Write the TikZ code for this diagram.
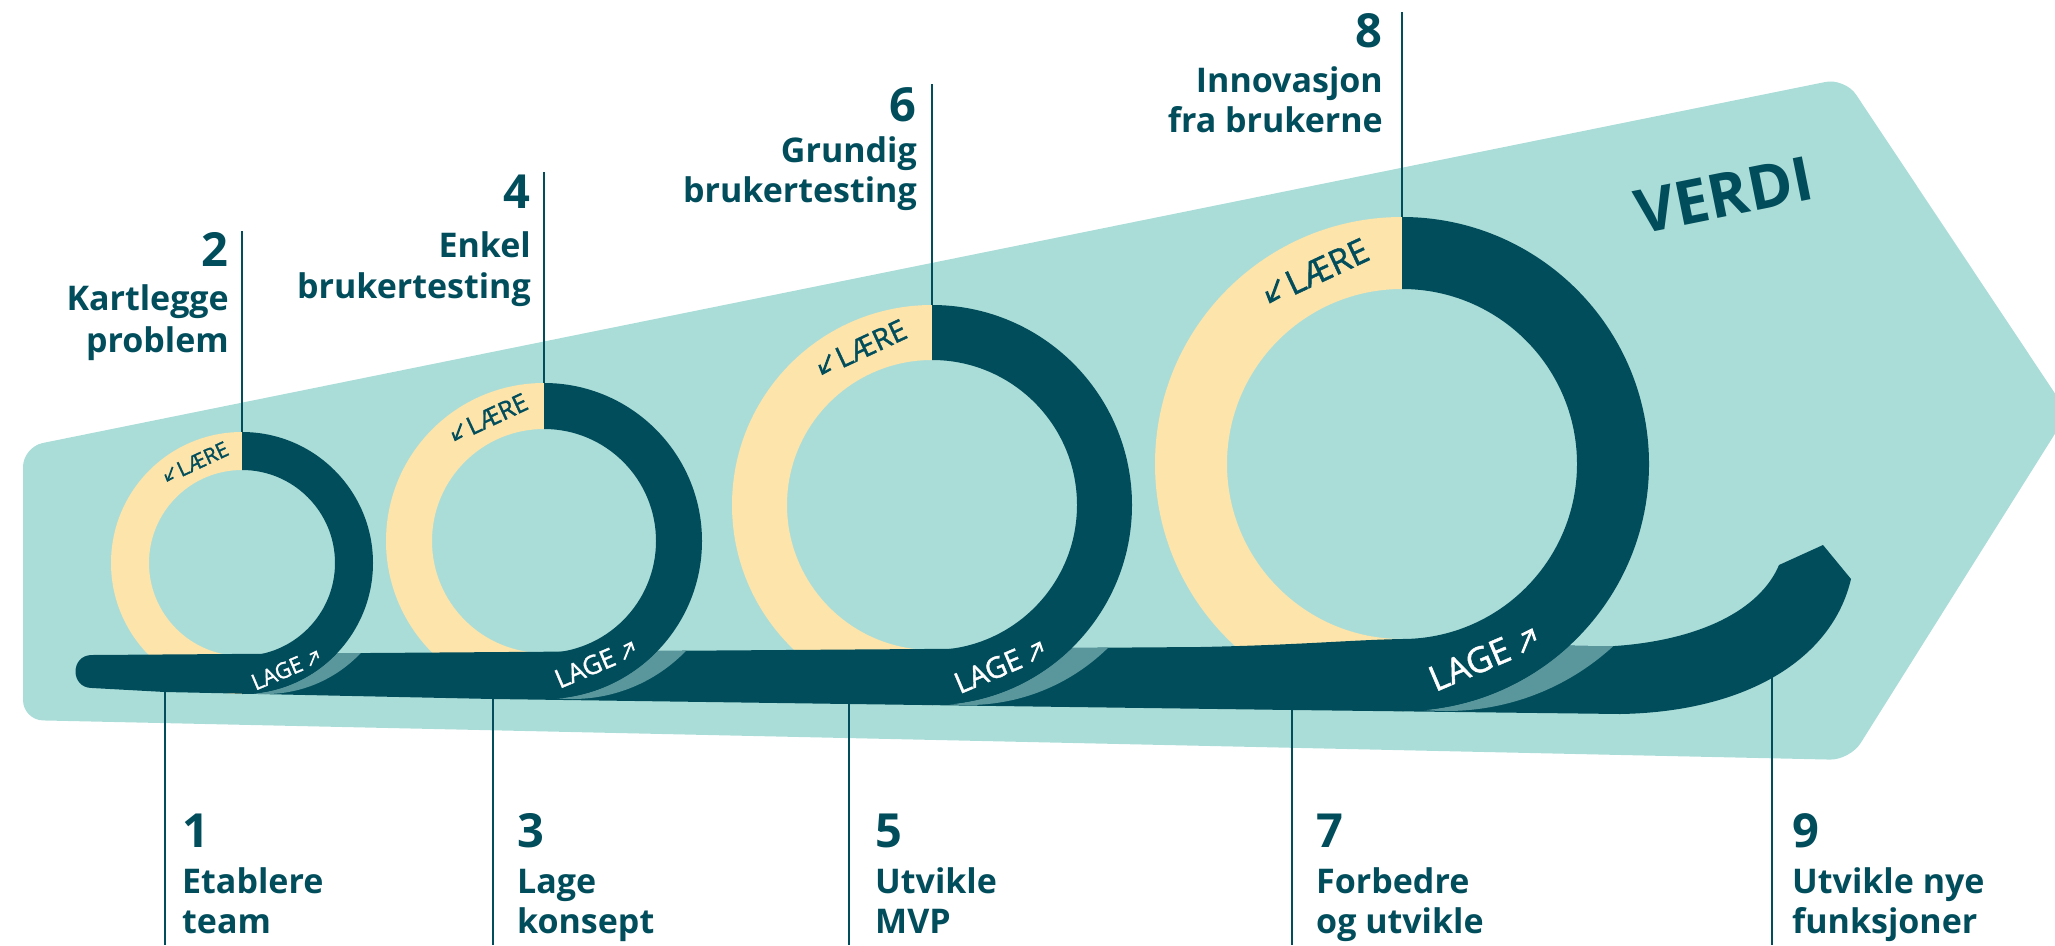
\documentclass[tikz,border=0pt]{standalone}
\usepackage{fontspec}
\usetikzlibrary{arrows.meta}
\setmainfont{Open Sans}
\newfontfamily\semibfont{Open Sans}[FakeBold=1.3]
\definecolor{bgteal}{RGB}{171,221,216}
\definecolor{dteal}{RGB}{1,77,92}
\definecolor{yel}{RGB}{252,228,171}
\definecolor{shadeteal}{RGB}{90,151,156}
\newcommand\trackpath{(92,655) -- (1200,647) .. controls (1300,645) and (1350,640) .. (1402,639) .. controls (1480,639) and (1540,647) .. (1615,646) .. controls (1700,640) and (1760,610) .. (1779,565) -- (1823,545) -- (1851,579) .. controls (1832,660) and (1745,712) .. (1620,714) -- (1292,710) -- (849,704) -- (493,699) -- (165,692) -- (92,688) .. controls (70,688) and (70,655) .. (92,655) -- cycle}
\newcommand\yelhalf[4]{\fill[yel] (#1,#2-#3) arc[start angle=270,end angle=90,radius=#3] -- (#1,#2+#4) arc[start angle=90,end angle=270,radius=#4] -- cycle;}
\newcommand\darkhalf[4]{\fill[dteal] (#1,#2-#3) arc[start angle=270,end angle=450,radius=#3] -- (#1,#2+#4) arc[start angle=90,end angle=-90,radius=#4] -- cycle;}
\newcommand\shadecres[3]{\begin{scope}\clip \trackpath; \clip (#1+0.18*#3,#2) circle[radius=#3]; \fill[shadeteal,even odd rule] (#1-2*#3,#2-2*#3) rectangle (#1+3*#3,#2+2*#3) (#1,#2) circle[radius=#3]; \end{scope}}
% arrow drawn before a LAERE node (pointing down-left), sizes in em of the text
\newcommand\swarr[2]{%
  \pgfmathsetmacro\alw{0.085*#2}\pgfmathsetmacro\ahl{0.24*#2}\pgfmathsetmacro\ahw{0.42*#2}%
  \begin{scope}[shift={(#1.base west)}, rotate=25, x=#2pt, y=-#2pt]
    \draw[dteal, line width=\alw pt, -{Straight Barb[length=\ahl pt, width=\ahw pt]}] (-0.16,-0.62) -- (-0.7,-0.08);
  \end{scope}}
% arrow drawn after a LAGE node (pointing up-right)
\newcommand\nearr[2]{%
  \pgfmathsetmacro\alw{0.075*#2}\pgfmathsetmacro\ahl{0.24*#2}\pgfmathsetmacro\ahw{0.42*#2}%
  \begin{scope}[shift={(#1.base east)}, rotate=23, x=#2pt, y=-#2pt]
    \draw[white, line width=\alw pt, -{Straight Barb[length=\ahl pt, width=\ahw pt]}] (0.3,-0.06) -- (0.84,-0.6);
  \end{scope}}
\tikzset{
  numlbl/.style={text=dteal, font=\bfseries\fontsize{47}{47}\selectfont, inner sep=0pt},
  txtlbl/.style={text=dteal, font=\bfseries\fontsize{34}{34}\selectfont, inner sep=0pt},
  leader/.style={draw=dteal, line width=2.8pt},
  laere/.style={text=dteal, inner sep=0pt, rotate=25},
  lage/.style={text=white, inner sep=0pt, rotate=23},
}
\begin{document}
\begin{tikzpicture}[x=1pt,y=-1pt]
\useasboundingbox (0,0) rectangle (2055,945);
% background arrow
\fill[bgteal, rounded corners=20pt] (23,447) -- (1845,78) -- (2068,413) -- (1850,760) -- (23,720) -- cycle;
\node[text=dteal, font=\bfseries\fontsize{61}{61}\selectfont, rotate=11.4, inner sep=0pt] (verdi) at (1724,195) {VERDI};
% yellow halves
\yelhalf{242}{563}{131}{93}
\yelhalf{544}{541}{158}{112}
\yelhalf{932}{505}{200}{145}
\yelhalf{1402}{464}{247}{175}
% track
\fill[dteal] \trackpath;
% shades
\shadecres{242}{563}{131}
\shadecres{544}{541}{158}
\shadecres{932}{505}{200}
\shadecres{1402}{464}{247}
% dark halves
\darkhalf{242}{563}{131}{93}
\darkhalf{544}{541}{158}{112}
\darkhalf{932}{505}{200}{145}
\darkhalf{1402}{464}{247}{175}
% ring texts
\node[laere, font=\semibfont\fontsize{21}{21}\selectfont] (laere1) at (202.6,459) {LÆRE};
\node[laere, font=\semibfont\fontsize{25}{25}\selectfont] (laere2) at (497,414) {LÆRE};
\node[laere, font=\semibfont\fontsize{29}{29}\selectfont] (laere3) at (871,343.5) {LÆRE};
\node[laere, font=\semibfont\fontsize{34}{34}\selectfont] (laere4) at (1327,266.5) {LÆRE};
\swarr{laere1}{21}
\swarr{laere2}{25}
\swarr{laere3}{29}
\swarr{laere4}{34}
\node[lage, font=\semibfont\fontsize{22}{22}\selectfont] (lage1) at (277,673) {LAGE};
\node[lage, font=\semibfont\fontsize{26}{26}\selectfont] (lage2) at (585,668) {LAGE};
\node[lage, font=\semibfont\fontsize{29}{29}\selectfont] (lage3) at (988,671) {LAGE};
\node[lage, font=\semibfont\fontsize{35}{35}\selectfont] (lage4) at (1469.5,664) {LAGE};
\nearr{lage1}{22}
\nearr{lage2}{26}
\nearr{lage3}{29}
\nearr{lage4}{35}
% top leader lines
\coordinate (t2) at (242,231);  \coordinate (r1) at (242,432);
\coordinate (t4) at (544,172);  \coordinate (r2) at (544,383);
\coordinate (t6) at (932,84);   \coordinate (r3) at (932,305);
\coordinate (t8) at (1402,12);  \coordinate (r4) at (1402,217);
\draw[leader] (t2) -- (r1);
\draw[leader] (t4) -- (r2);
\draw[leader] (t6) -- (r3);
\draw[leader] (t8) -- (r4);
% bottom leader lines
\coordinate (s1) at (165,689);  \coordinate (e1) at (165,945);
\coordinate (s3) at (493,696);  \coordinate (e3) at (493,945);
\coordinate (s5) at (849,701);  \coordinate (e5) at (849,945);
\coordinate (s7) at (1292,707); \coordinate (e7) at (1292,945);
\coordinate (s9) at (1772,674); \coordinate (e9) at (1772,945);
\draw[leader] (s1) -- (e1);
\draw[leader] (s3) -- (e3);
\draw[leader] (s5) -- (e5);
\draw[leader] (s7) -- (e7);
\draw[leader] (s9) -- (e9);
% top labels
\node[numlbl, anchor=base east] (n2) at (229,266) {2};
\node[txtlbl, anchor=base east] (n2a) at (229,310) {Kartlegge};
\node[txtlbl, anchor=base east] (n2b) at (229,352) {problem};
\node[numlbl, anchor=base east] (n4) at (531,208) {4};
\node[txtlbl, anchor=base east] (n4a) at (531,257) {Enkel};
\node[txtlbl, anchor=base east] (n4b) at (531,298) {brukertesting};
\node[numlbl, anchor=base east] (n6) at (917,121) {6};
\node[txtlbl, anchor=base east] (n6a) at (917,162) {Grundig};
\node[txtlbl, anchor=base east] (n6b) at (917,202) {brukertesting};
\node[numlbl, anchor=base east] (n8) at (1383,47) {8};
\node[txtlbl, anchor=base east] (n8a) at (1383,92) {Innovasjon};
\node[txtlbl, anchor=base east] (n8b) at (1383,132) {fra brukerne};
% bottom labels
\node[numlbl, anchor=base west] (n1) at (182,847) {1};
\node[txtlbl, anchor=base west] (n1a) at (182,893) {Etablere};
\node[txtlbl, anchor=base west] (n1b) at (182,933) {team};
\node[numlbl, anchor=base west] (n3) at (517,847) {3};
\node[txtlbl, anchor=base west] (n3a) at (517,893) {Lage};
\node[txtlbl, anchor=base west] (n3b) at (517,933) {konsept};
\node[numlbl, anchor=base west] (n5) at (875,847) {5};
\node[txtlbl, anchor=base west] (n5a) at (875,893) {Utvikle};
\node[txtlbl, anchor=base west] (n5b) at (875,933) {MVP};
\node[numlbl, anchor=base west] (n7) at (1316,847) {7};
\node[txtlbl, anchor=base west] (n7a) at (1316,893) {Forbedre};
\node[txtlbl, anchor=base west] (n7b) at (1316,933) {og utvikle};
\node[numlbl, anchor=base west] (n9) at (1792,847) {9};
\node[txtlbl, anchor=base west] (n9a) at (1792,893) {Utvikle nye};
\node[txtlbl, anchor=base west] (n9b) at (1792,933) {funksjoner};
\end{tikzpicture}
\end{document}
